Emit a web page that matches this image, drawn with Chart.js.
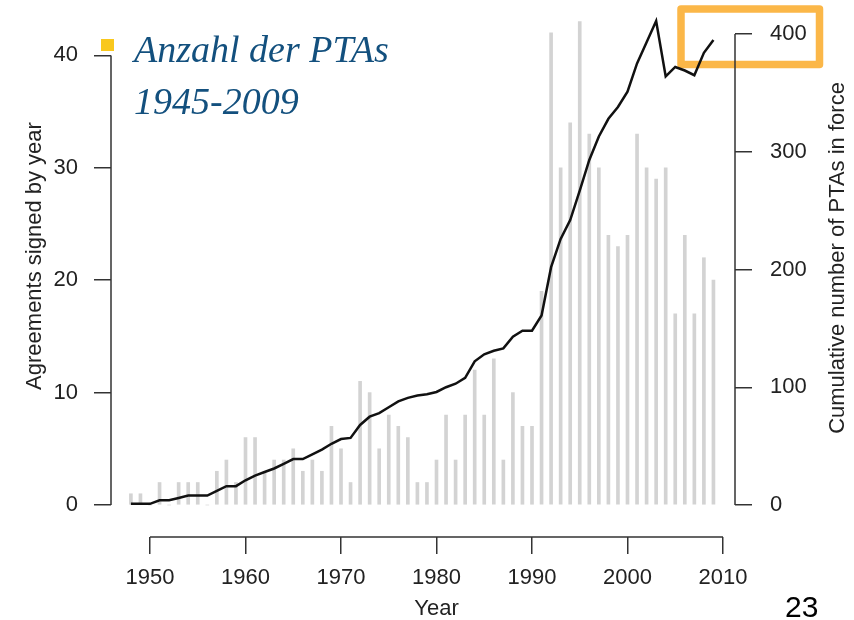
<!DOCTYPE html>
<html>
<head>
<meta charset="utf-8">
<script src="https://cdn.jsdelivr.net/npm/chart.js@4"></script>
<style>
  html, body { margin: 0; padding: 0; background: #fff; }
  #wrap { position: relative; width: 854px; height: 620px; }
</style>
</head>
<body>
<div id="wrap"><canvas id="ptaChart" width="854" height="620"></canvas></div>
<script>
// values (PTAs 1948-2009)
const years = [
  1948, 1949, 1950, 1951, 1952, 1953, 1954, 1955, 1956, 1957,
  1958, 1959, 1960, 1961, 1962, 1963, 1964, 1965, 1966, 1967,
  1968, 1969, 1970, 1971, 1972, 1973, 1974, 1975, 1976, 1977,
  1978, 1979, 1980, 1981, 1982, 1983, 1984, 1985, 1986, 1987,
  1988, 1989, 1990, 1991, 1992, 1993, 1994, 1995, 1996, 1997,
  1998, 1999, 2000, 2001, 2002, 2003, 2004, 2005, 2006, 2007,
  2008, 2009
];
const signedByYear = [
  1, 1, 0, 2, 0, 2, 2, 2, 0, 3,
  4, 2, 6, 6, 3, 4, 4, 5, 3, 4,
  3, 7, 5, 2, 11, 10, 5, 8, 7, 6,
  2, 2, 4, 8, 4, 8, 12, 8, 13, 4,
  10, 7, 7, 19, 42, 30, 34, 43, 33, 30,
  24, 23, 24, 33, 30, 29, 30, 17, 24, 17,
  22, 20
];
const inForce = [
  1, 1, 1, 4, 4, 6, 8, 8, 8, 12,
  16, 16, 21, 25, 28, 31, 35, 39, 39, 43,
  47, 52, 56, 57, 68, 75, 78, 83, 88, 91,
  93, 94, 96, 100, 103, 108, 122, 128, 131, 133,
  143, 148, 148, 161, 202, 226, 242, 267, 293, 313,
  328, 338, 351, 375, 393, 411, 364, 372, 369, 365,
  384, 395
];
const yearTicks = [1950, 1960, 1970, 1980, 1990, 2000, 2010];
const leftTicks = [0, 10, 20, 30, 40];
const rightTicks = [0, 100, 200, 300, 400];

const sansFont = '"Liberation Sans", Arial, sans-serif';
const axisColor = "#333";
const textColor = "#222";

const tickFont = { family: sansFont, size: 22 };

// R style axes: line only between first and last tick, plus slide decorations
const slideDecor = {
  id: "slideDecor",
  beforeDatasetsDraw(chart) {
    const ctx = chart.ctx;
    ctx.save();
    ctx.strokeStyle = "#FBB748";
    ctx.lineWidth = 7.5;
    ctx.lineJoin = "round";
    ctx.strokeRect(681, 9, 138.5, 55.5);
    ctx.restore();
  },
  afterDraw(chart) {
    const ctx = chart.ctx;
    const area = chart.chartArea;
    const x = chart.scales.x;
    const y = chart.scales.y;
    const y1 = chart.scales.y1;

    ctx.save();
    ctx.strokeStyle = axisColor;
    ctx.lineWidth = 1.5;
    ctx.beginPath();
    ctx.moveTo(x.getPixelForValue(yearTicks[0]), area.bottom);
    ctx.lineTo(x.getPixelForValue(yearTicks[yearTicks.length - 1]), area.bottom);
    ctx.moveTo(area.left, y.getPixelForValue(leftTicks[0]));
    ctx.lineTo(area.left, y.getPixelForValue(leftTicks[leftTicks.length - 1]));
    ctx.moveTo(area.right, y1.getPixelForValue(rightTicks[0]));
    ctx.lineTo(area.right, y1.getPixelForValue(rightTicks[rightTicks.length - 1]));
    ctx.stroke();

    // axis titles
    ctx.fillStyle = textColor;
    ctx.font = "22px " + sansFont;
    ctx.textAlign = "center";
    ctx.textBaseline = "middle";
    const xMid = (x.getPixelForValue(yearTicks[0]) + x.getPixelForValue(yearTicks[yearTicks.length - 1])) / 2;
    ctx.fillText("Year", xMid, 609);

    ctx.save();
    ctx.translate(35, 256);
    ctx.rotate(-Math.PI / 2);
    ctx.fillText("Agreements signed by year", 0, 0);
    ctx.restore();

    ctx.save();
    ctx.translate(838, 258);
    ctx.rotate(-Math.PI / 2);
    ctx.fillText("Cumulative number of PTAs in force", 0, 0);
    ctx.restore();

    // slide title + bullet
    ctx.fillStyle = "#F9C81D";
    ctx.fillRect(101, 39, 13, 12);
    ctx.fillStyle = "#13507E";
    ctx.font = 'italic 38px "Liberation Serif", "DejaVu Serif", serif';
    ctx.textAlign = "left";
    ctx.textBaseline = "alphabetic";
    ctx.fillText("Anzahl der PTAs", 134, 62);
    ctx.fillText("1945-2009", 134, 114);

    // page number
    ctx.fillStyle = "#000";
    ctx.font = "30px " + sansFont;
    ctx.fillText("23", 785, 617);
    ctx.restore();
  }
};

// keep the plot box fixed: no extra room for the end tick labels
function fixVertical(width) {
  return (scale) => {
    scale.width = width;
    scale.paddingTop = 0;
    scale.paddingBottom = 0;
  };
}

const ctx = document.getElementById("ptaChart").getContext("2d");

new Chart(ctx, {
  type: "bar",
  data: {
    datasets: [
      {
        type: "line",
        label: "Cumulative number of PTAs in force",
        data: years.map((yr, i) => ({ x: yr, y: inForce[i] })),
        yAxisID: "y1",
        borderColor: "#111",
        borderWidth: 2.5,
        pointRadius: 0,
        tension: 0,
        order: 0,
        clip: false
      },
      {
        type: "bar",
        label: "Agreements signed by year",
        data: years.map((yr, i) => ({ x: yr, y: signedByYear[i] })),
        yAxisID: "y",
        backgroundColor: "#D3D3D3",
        barThickness: 3,
        borderWidth: 0,
        order: 1,
        clip: false
      }
    ]
  },
  options: {
    responsive: false,
    animation: false,
    layout: { padding: { top: 20, left: 0, right: 0, bottom: 0 } },
    plugins: {
      legend: { display: false },
      tooltip: { enabled: false }
    },
    scales: {
      x: {
        type: "linear",
        min: 1945.916,
        max: 2011.257,
        offset: false,
        afterBuildTicks: (scale) => { scale.ticks = yearTicks.map(v => ({ value: v })); },
        afterFit: (scale) => {
          scale.height = 83;
          scale.paddingLeft = 0;
          scale.paddingRight = 0;
        },
        grid: { drawOnChartArea: false, offset: false, tickLength: 17, color: axisColor, lineWidth: 1.5 },
        border: { display: false },
        ticks: { font: tickFont, color: textColor, padding: 11, maxRotation: 0, callback: (v) => String(v) }
      },
      y: {
        position: "left",
        min: -2.847,
        max: 43.149,
        afterBuildTicks: (scale) => { scale.ticks = leftTicks.map(v => ({ value: v })); },
        afterFit: fixVertical(111),
        grid: { drawOnChartArea: false, tickLength: 17, color: axisColor, lineWidth: 1.5 },
        border: { display: false },
        ticks: { font: tickFont, color: textColor, padding: 16 }
      },
      y1: {
        position: "right",
        min: -27.18,
        max: 411.9,
        afterBuildTicks: (scale) => { scale.ticks = rightTicks.map(v => ({ value: v })); },
        afterFit: fixVertical(119),
        grid: { drawOnChartArea: false, tickLength: 17, color: axisColor, lineWidth: 1.5 },
        border: { display: false },
        ticks: { font: tickFont, color: textColor, padding: 18 }
      }
    }
  },
  plugins: [slideDecor]
});
</script>
</body>
</html>
